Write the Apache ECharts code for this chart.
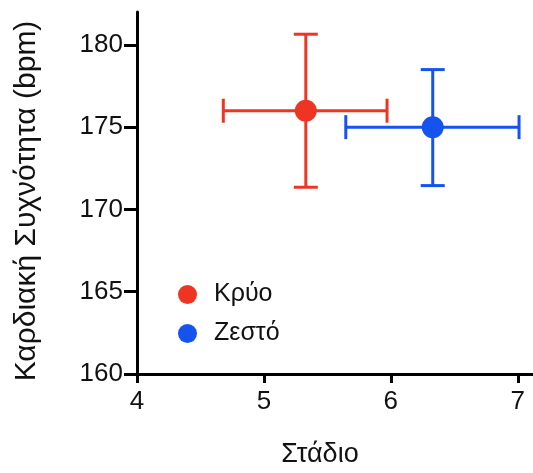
<!DOCTYPE html>
<html>
<head>
<meta charset="utf-8">
<script src="https://cdn.jsdelivr.net/npm/echarts@6/dist/echarts.min.js"></script>
<style>
  html, body { margin: 0; padding: 0; background: #fff; }
  #main { width: 533px; height: 473px; }
</style>
</head>
<body>
<div id="main"></div>
<script>
// groups and their mean / error extents
const groups = ['Κρύο', 'Ζεστό'];
const colors = ['#ee3524', '#1652ee'];
const stages = [5.33, 6.33];
const rates = [176, 175];
const stageLow = [4.68, 5.645];
const stageHigh = [5.97, 7.01];
const rateLow = [171.35, 171.45];
const rateHigh = [180.65, 178.5];

const xTicks = [4, 5, 6, 7];
const yTicks = [160, 165, 170, 175, 180];

const font = '"Liberation Sans", Arial, sans-serif';

function errorBars(params, api) {
  const x = api.value(0), y = api.value(1);
  const l = api.coord([api.value(2), y]);
  const r = api.coord([api.value(3), y]);
  const b = api.coord([x, api.value(4)]);
  const t = api.coord([x, api.value(5)]);
  const c = 12;
  const style = { stroke: api.visual('color'), lineWidth: 3 };
  const line = (x1, y1, x2, y2) => ({ type: 'line', shape: { x1, y1, x2, y2 }, style });
  return {
    type: 'group',
    children: [
      line(l[0], l[1], r[0], r[1]),
      line(t[0], t[1], b[0], b[1]),
      line(l[0], l[1] - c, l[0], l[1] + c),
      line(r[0], r[1] - c, r[0], r[1] + c),
      line(t[0] - c, t[1], t[0] + c, t[1]),
      line(b[0] - c, b[1], b[0] + c, b[1])
    ]
  };
}

const series = [];
groups.forEach((g, i) => {
  series.push({
    type: 'custom',
    renderItem: errorBars,
    itemStyle: { color: colors[i] },
    data: [[stages[i], rates[i], stageLow[i], stageHigh[i], rateLow[i], rateHigh[i]]],
    clip: false,
    z: 2
  });
  series.push({
    name: g,
    type: 'scatter',
    symbol: 'circle',
    symbolSize: 22,
    itemStyle: { color: colors[i], opacity: 1 },
    data: [[stages[i], rates[i]]],
    z: 3
  });
});

const chart = echarts.init(document.getElementById('main'));
chart.setOption({
  animation: false,
  grid: { left: 137, right: 0, top: 12, bottom: 96 },
  legend: {
    data: groups,
    orient: 'vertical',
    left: 173,
    top: 277,
    itemWidth: 19,
    itemHeight: 19,
    itemGap: 14,
    textStyle: { fontFamily: font, fontSize: 25, color: '#111', padding: [0, 0, 0, 12] }
  },
  xAxis: {
    type: 'value',
    min: 4,
    max: 7.12,
    interval: 1,
    name: 'Στάδιο',
    nameLocation: 'middle',
    nameGap: 67,
    nameTextStyle: { fontFamily: font, fontSize: 27, color: '#111', padding: [0, 30, 0, 0] },
    axisLine: { onZero: false, lineStyle: { color: '#000', width: 3 } },
    axisTick: { length: 9, lineStyle: { color: '#000', width: 3 }, customValues: xTicks },
    axisLabel: { customValues: xTicks, margin: 15, fontFamily: font, fontSize: 26, color: '#111' },
    splitLine: { show: false }
  },
  yAxis: {
    type: 'value',
    min: 160,
    max: 182,
    interval: 5,
    name: 'Καρδιακή Συχνότητα (bpm)',
    nameLocation: 'middle',
    nameGap: 95,
    nameTextStyle: { fontFamily: font, fontSize: 30, color: '#111', padding: [0, 16, 0, 0] },
    axisLine: { onZero: false, lineStyle: { color: '#000', width: 3 } },
    axisTick: { length: 13, lineStyle: { color: '#000', width: 3 }, customValues: yTicks },
    axisLabel: { customValues: yTicks, margin: 14, fontFamily: font, fontSize: 26, color: '#111' },
    splitLine: { show: false }
  },
  series: series
});
</script>
</body>
</html>
